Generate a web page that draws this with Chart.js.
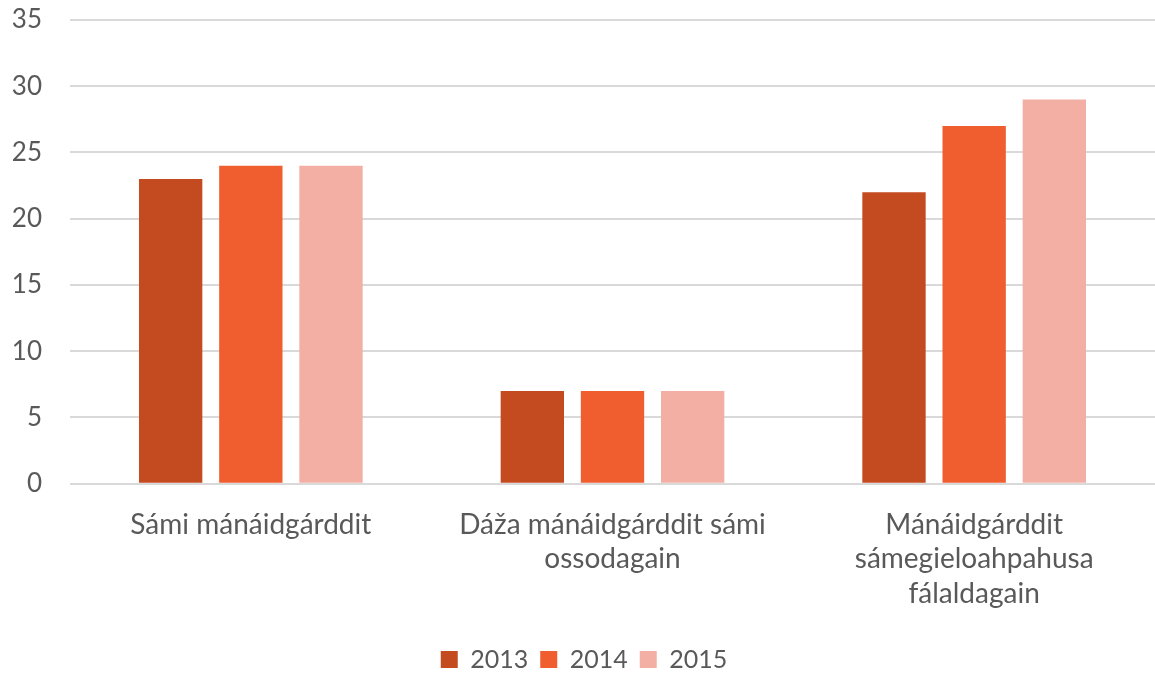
<!DOCTYPE html>
<html>
<head>
<meta charset="utf-8">
<script src="https://cdn.jsdelivr.net/npm/chart.js@4/dist/chart.umd.min.js"></script>
<style>
  html, body { margin: 0; padding: 0; background: #fff; }
  #wrap { width: 1155px; height: 677px; position: relative; }
</style>
</head>
<body>
<div id="wrap"><canvas id="chart"></canvas></div>
<script>
  // Categories (multi-line labels as in the original)
  const categories = [
    ["Sámi mánáidgárddit"],
    ["Dáža mánáidgárddit sámi", "ossodagain"],
    ["Mánáidgárddit", "sámegieloahpahusa", "fálaldagain"]
  ];

  // Series values
  const values2013 = [23, 7, 22];
  const values2014 = [24, 7, 27];
  const values2015 = [24, 7, 29];

  const seriesNames = ["2013", "2014", "2015"];
  const seriesColors = ["#C44A20", "#F05D2E", "#F4AFA5"];

  const yMin = 0;
  const yMax = 35;
  const yStep = 5;

  const textColor = "#595959";
  const fontFamily = "Lato, 'Open Sans', 'Liberation Sans', sans-serif";

  const ctx = document.getElementById("chart").getContext("2d");

  new Chart(ctx, {
    type: "bar",
    data: {
      labels: categories,
      datasets: [values2013, values2014, values2015].map(function (vals, i) {
        return {
          label: seriesNames[i],
          data: vals,
          backgroundColor: seriesColors[i],
          borderWidth: 0,
          categoryPercentage: 0.665,
          barPercentage: 0.79
        };
      })
    },
    options: {
      animation: false,
      responsive: true,
      maintainAspectRatio: false,
      layout: { padding: { top: 20, right: -5, bottom: -5, left: 8 } },
      plugins: {
        tooltip: { enabled: false },
        legend: {
          position: "bottom",
          labels: {
            boxWidth: 17,
            boxHeight: 17,
            padding: 12,
            color: textColor,
            font: { family: fontFamily, size: 25 }
          }
        }
      },
      scales: {
        x: {
          grid: { display: false, drawTicks: false },
          border: { display: false },
          ticks: {
            color: textColor,
            padding: 24,
            maxRotation: 0,
            autoSkip: false,
            font: { family: fontFamily, size: 28, lineHeight: 1.23 }
          }
        },
        y: {
          min: yMin,
          max: yMax,
          grid: { color: "#D9D9D9", lineWidth: 2, drawTicks: false },
          border: { display: false },
          ticks: {
            stepSize: yStep,
            color: textColor,
            padding: 28,
            font: { family: fontFamily, size: 26 }
          },
          // top gridline close to the canvas edge, fixed axis width
          afterFit: function (scale) {
            scale.paddingTop = 0;
            scale.width = 62;
          }
        }
      }
    }
  });
</script>
</body>
</html>
